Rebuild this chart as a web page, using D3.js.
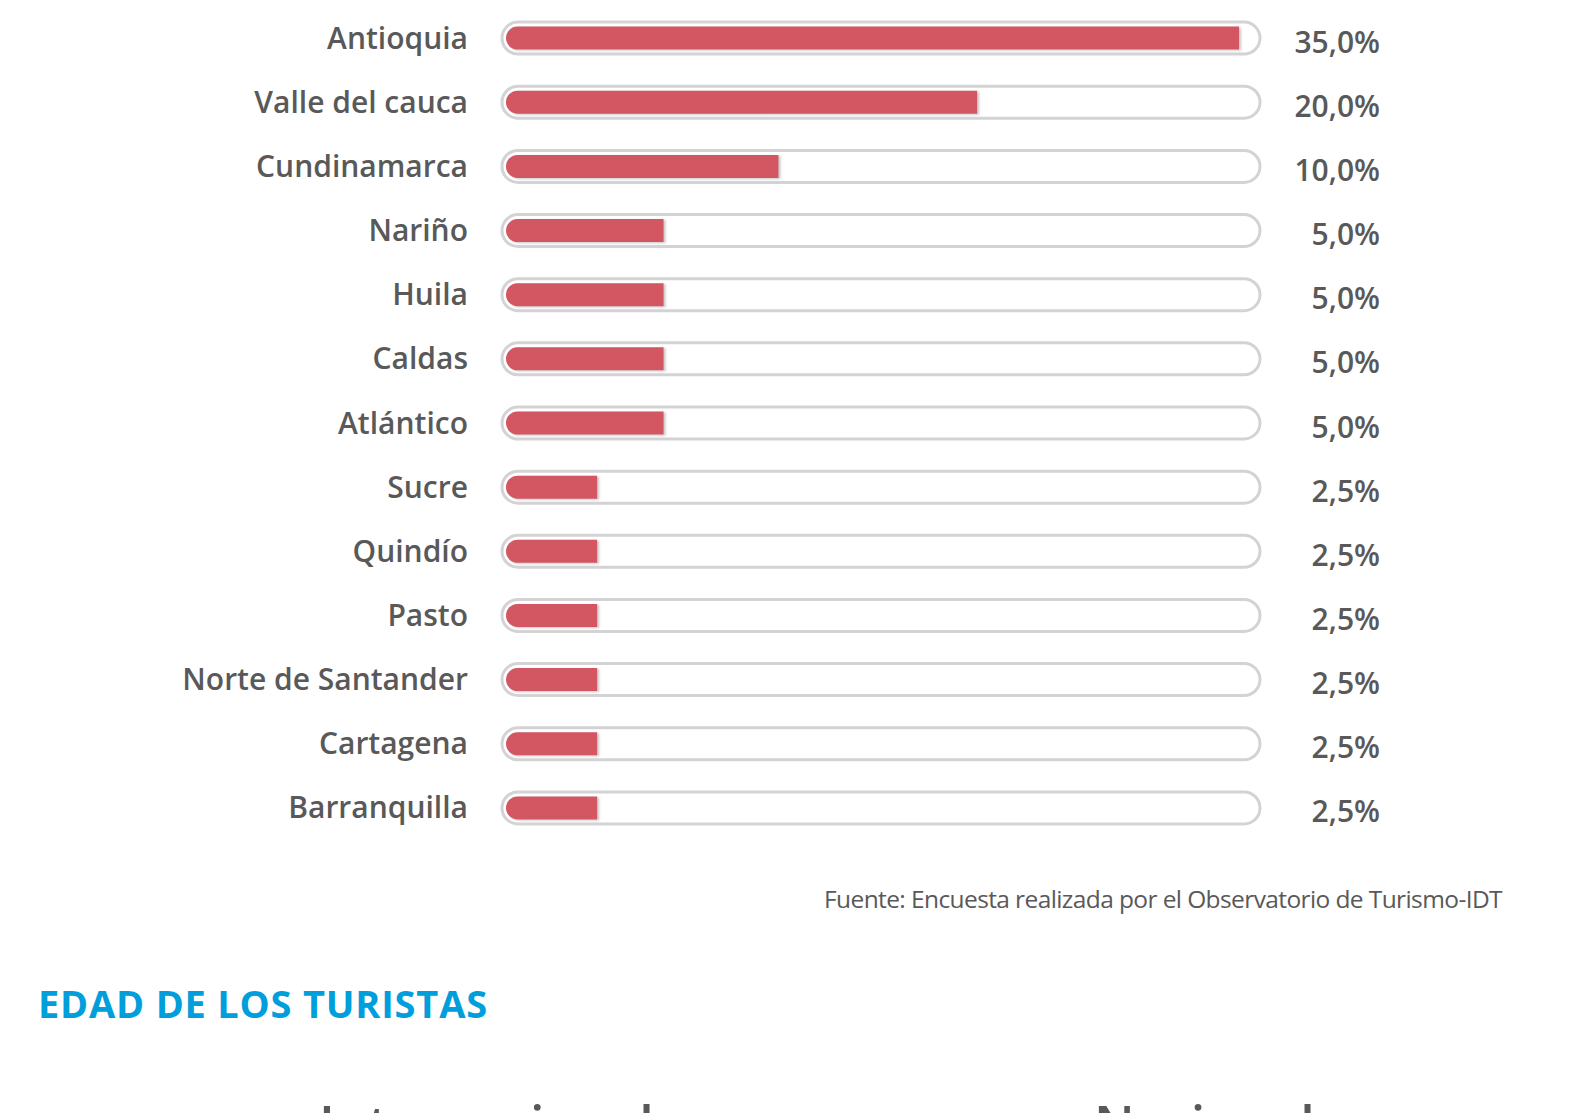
<!DOCTYPE html>
<html>
<head>
<meta charset="utf-8">
<script src="https://cdn.jsdelivr.net/npm/d3@7"></script>
<style>
  body { margin: 0; background: #fff; }
  svg text { font-family: "Open Sans", "Lato", sans-serif; }
</style>
</head>
<body>
<div id="chart"></div>
<script>
var regiones = ["Antioquia", "Valle del cauca", "Cundinamarca", "Nariño", "Huila", "Caldas",
                "Atlántico", "Sucre", "Quindío", "Pasto", "Norte de Santander", "Cartagena", "Barranquilla"];
var porcentajes = [35.0, 20.0, 10.0, 5.0, 5.0, 5.0, 5.0, 2.5, 2.5, 2.5, 2.5, 2.5, 2.5];
var fuente = "Fuente: Encuesta realizada por el Observatorio de Turismo-IDT";
var titulo = "EDAD DE LOS TURISTAS";
var subtitulos = ["Internacional", "Nacional"];

function init() {
    var w = 1584;
    var h = 1113;

    var svg = d3.select("#chart")
                .append("svg")
                .attr("width", w)
                .attr("height", h);

    var defs = svg.append("defs");
    var f = defs.append("filter").attr("id", "sombra")
                .attr("x", "-5%").attr("y", "-30%").attr("width", "110%").attr("height", "160%");
    f.append("feDropShadow").attr("dx", 2).attr("dy", 1).attr("stdDeviation", 1)
     .attr("flood-color", "#999").attr("flood-opacity", 0.55);

    var trackX0 = 502, trackX1 = 1260, trackH = 32;

    var y = d3.scaleBand()
              .domain(regiones)
              .range([6, 840])
              .paddingInner(0);

    // bar lengths in the original are not proportional; a power scale follows them
    var x = d3.scalePow()
              .exponent(0.79)
              .domain([0, 35])
              .range([0, 733]);

    var fmt = function(v) { return d3.format(".1f")(v).replace(".", ",") + "%"; };

    var rows = svg.selectAll("g.fila")
                  .data(regiones)
                  .enter()
                  .append("g")
                  .attr("class", "fila")
                  .attr("transform", function(d) {
                      return "translate(0," + (y(d) + y.bandwidth() / 2) + ")";
                  });

    // track
    rows.append("rect")
        .attr("x", trackX0)
        .attr("y", -trackH / 2)
        .attr("width", trackX1 - trackX0)
        .attr("height", trackH)
        .attr("rx", trackH / 2)
        .attr("fill", "#fff")
        .attr("stroke", "#d3d3d3")
        .attr("stroke-width", 3);

    // fill: rounded on the left, square on the right
    var bh = 23, r = bh / 2, bx = trackX0 + 4;
    rows.append("path")
        .attr("filter", "url(#sombra)")
        .attr("fill", "#d35664")
        .attr("d", function(d, i) {
            var len = x(porcentajes[i]);
            var p = d3.path();
            p.moveTo(bx + r, -bh / 2);
            p.lineTo(bx + len, -bh / 2);
            p.lineTo(bx + len, bh / 2);
            p.lineTo(bx + r, bh / 2);
            p.arc(bx + r, 0, r, Math.PI / 2, 3 * Math.PI / 2);
            p.closePath();
            return p.toString();
        });

    rows.append("text")
        .attr("x", 468)
        .attr("y", 0)
        .attr("dy", "0.35em")
        .attr("text-anchor", "end")
        .attr("fill", "#595959")
        .style("font-size", "30px")
        .style("font-weight", 600)
        .text(function(d) { return d; });

    rows.append("text")
        .attr("x", 1380)
        .attr("y", 4)
        .attr("dy", "0.35em")
        .attr("text-anchor", "end")
        .attr("fill", "#595959")
        .style("font-size", "30px")
        .style("font-weight", 600)
        .text(function(d, i) { return fmt(porcentajes[i]); });

    svg.append("text")
       .attr("x", 1502)
       .attr("y", 899)
       .attr("dy", "0.35em")
       .attr("text-anchor", "end")
       .attr("fill", "#595959")
       .style("font-size", "24.5px")
       .style("font-weight", 400)
       .style("letter-spacing", "-0.6px")
       .text(fuente);

    svg.append("text")
       .attr("x", 38)
       .attr("y", 1005)
       .attr("dy", "0.35em")
       .attr("fill", "#009edb")
       .style("font-size", "38px")
       .style("font-weight", 700)
       .style("letter-spacing", "0.8px")
       .text(titulo);

    svg.selectAll("text.sub")
       .data(subtitulos)
       .enter()
       .append("text")
       .attr("class", "sub")
       .attr("x", function(d, i) { return i === 0 ? 319 : 1094; })
       .attr("y", 1144)
       .attr("fill", "#595959")
       .style("font-size", "52px")
       .style("font-weight", 600)
       .text(function(d) { return d; });
}

window.onload = init;
</script>
</body>
</html>
